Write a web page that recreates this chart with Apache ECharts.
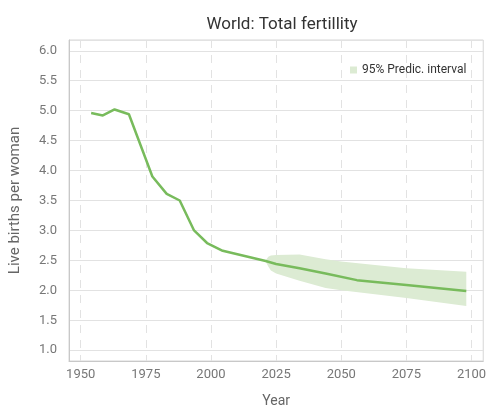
<!DOCTYPE html>
<html>
<head>
<meta charset="utf-8">
<script src="https://cdn.jsdelivr.net/npm/echarts@6/dist/echarts.min.js"></script>
<style>
  html, body { margin: 0; padding: 0; background: #fff; }
  #chart { width: 489px; height: 413px; }
</style>
</head>
<body>
<div id="chart"></div>
<script>
// Estimated and projected total fertility (live births per woman), world
const years = [1954, 1958.5, 1963, 1968.5, 1977.5, 1983, 1988, 1993.5, 1998.5, 2004.5,
               2021, 2025, 2034, 2044, 2056, 2075, 2098];
const fertility = [4.96, 4.92, 5.02, 4.94, 3.90, 3.61, 3.50, 3.00, 2.79, 2.66,
                   2.49, 2.44, 2.37, 2.28, 2.17, 2.09, 1.99];

// 95% prediction interval of the projection
const bandYears = [2021, 2022, 2023, 2025, 2034, 2044, 2050, 2075, 2098];
const bandLow   = [2.48, 2.40, 2.33, 2.28, 2.16, 2.04, 2.00, 1.87, 1.74];
const bandHigh  = [2.50, 2.56, 2.58, 2.59, 2.60, 2.52, 2.48, 2.37, 2.31];

const xTicks = [1950, 1975, 2000, 2025, 2050, 2075, 2100];

const lineColor = '#78bb5c';
const bandColor = '#dcebd3';
const font = 'Roboto, sans-serif';

const chart = echarts.init(document.getElementById('chart'), null, { renderer: 'canvas' });

// Polygon for the prediction interval: upper edge forward, lower edge back
function renderBand(params, api) {
  const pts = [];
  for (let i = 0; i < bandYears.length; i++) pts.push(api.coord([bandYears[i], bandHigh[i]]));
  for (let i = bandYears.length - 1; i >= 0; i--) pts.push(api.coord([bandYears[i], bandLow[i]]));
  return {
    type: 'polygon',
    shape: { points: pts },
    style: { fill: bandColor }
  };
}

chart.setOption({
  animation: false,
  backgroundColor: '#fff',
  title: {
    text: 'World: Total fertillity',
    left: 277, top: 11, textAlign: 'center',
    textStyle: { fontFamily: font, fontSize: 17, fontWeight: 'normal', color: '#333' }
  },
  legend: {
    data: ['95% Predic. interval'],
    left: 345, top: 59,
    icon: 'rect', itemWidth: 7, itemHeight: 7, itemGap: 6,
    textStyle: { fontFamily: font, fontSize: 12, color: '#333' }
  },
  grid: {
    left: 65, right: -2, top: 40, bottom: 41,
    show: true, borderColor: '#d6d6d6', borderWidth: 1
  },
  xAxis: {
    type: 'value', min: 1945.5, max: 2104.5,
    name: 'Year', nameLocation: 'middle', nameGap: 33,
    nameTextStyle: { fontFamily: font, fontSize: 14, color: '#666' },
    axisLine: { show: true, lineStyle: { color: '#c8c8c8' } },
    axisTick: { show: false, customValues: xTicks },
    axisLabel: {
      customValues: xTicks, fontFamily: font, fontSize: 13, color: '#777', margin: 7,
      formatter: v => String(v)
    },
    splitLine: { show: true, lineStyle: { color: '#e2e2e2', type: [8, 7] } }
  },
  yAxis: {
    type: 'value', min: 0.82, max: 6.18, splitNumber: 10,
    name: 'Live births per woman', nameLocation: 'middle', nameGap: 46,
    nameTextStyle: { fontFamily: font, fontSize: 15, color: '#666' },
    axisLine: { show: true, lineStyle: { color: '#c8c8c8' } },
    axisTick: { show: false },
    axisLabel: {
      showMinLabel: false, showMaxLabel: false,
      fontFamily: font, fontSize: 13, color: '#777', margin: 12,
      formatter: v => v.toFixed(1)
    },
    splitLine: { show: true, lineStyle: { color: '#e2e2e2' } }
  },
  series: [
    {
      name: '95% Predic. interval', type: 'custom', silent: true,
      renderItem: renderBand,
      data: [[bandYears[0], bandLow[0]]],
      itemStyle: { color: bandColor },
      z: 2
    },
    {
      name: 'Total fertility', type: 'line',
      data: years.map((y, i) => [y, fertility[i]]),
      symbol: 'none',
      lineStyle: { color: lineColor, width: 2.5 },
      z: 5
    }
  ]
});
</script>
</body>
</html>
